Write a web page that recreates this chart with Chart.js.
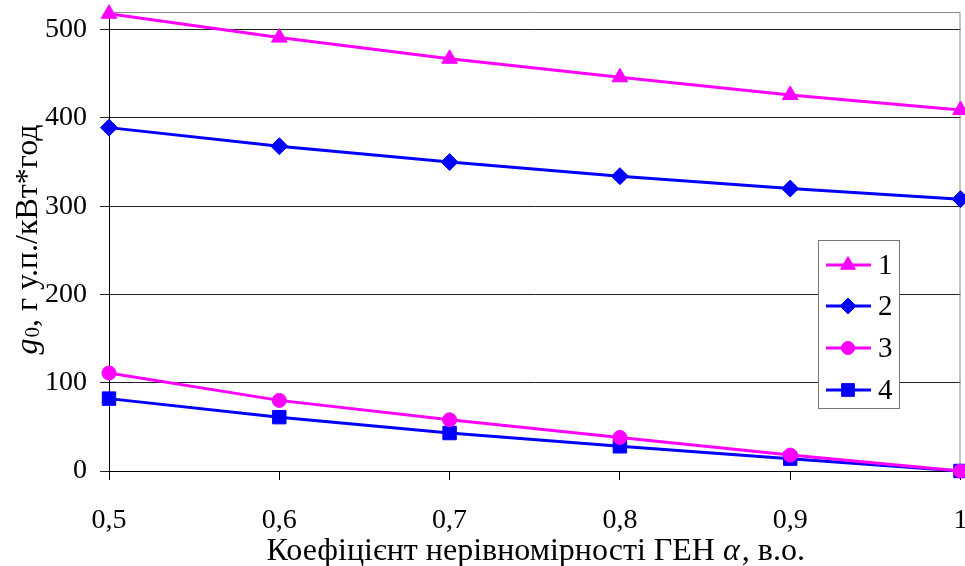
<!DOCTYPE html>
<html>
<head>
<meta charset="utf-8">
<script src="https://cdn.jsdelivr.net/npm/chart.js@4/dist/chart.umd.min.js"></script>
<style>
  html, body { margin: 0; padding: 0; background: #fff; overflow: hidden; }
  #wrap { width: 965px; height: 566px; overflow: hidden; }
</style>
</head>
<body>
<div id="wrap"><canvas id="myChart" width="971" height="566"></canvas></div>
<script>
const alphas = [0.5, 0.6, 0.7, 0.8, 0.9, 1.0];
const series1 = [518, 491, 467, 446, 426, 409];
const series2 = [389, 368, 350, 334, 320, 308];
const series3 = [111, 80, 58, 38, 18, 0];
const series4 = [82, 61, 43, 28, 14, 0];
const seriesNames = ["1", "2", "3", "4"];
const yTicks = [0, 100, 200, 300, 400, 500];

const magenta = "#ff00ff";
const blue = "#0000ff";
const serif = "'Liberation Serif', 'Times New Roman', serif";

function pts(vals) {
  return alphas.map((a, i) => ({ x: a, y: vals[i] }));
}

// frame, axis titles and the boxed legend drawn over the chart
const extras = {
  id: "extras",
  beforeDatasetsDraw(chart) {
    const { ctx, chartArea: a } = chart;
    ctx.save();
    ctx.strokeStyle = "#8a8a8a";
    ctx.lineWidth = 1;
    ctx.beginPath();
    ctx.moveTo(a.left, a.top + 0.5);
    ctx.lineTo(a.right - 0.5, a.top + 0.5);
    ctx.lineTo(a.right - 0.5, a.bottom);
    ctx.stroke();
    ctx.restore();
  },
  afterDraw(chart) {
    const { ctx, chartArea: a } = chart;
    ctx.save();
    ctx.fillStyle = "#000";
    ctx.textBaseline = "alphabetic";

    // x title
    const p1 = "Коефіцієнт нерівномірності ГЕН ";
    const p2 = "α";
    const p3 = ", в.о.";
    const fN = "32px " + serif;
    const fI = "italic 32px " + serif;
    ctx.font = fN;
    const w1 = ctx.measureText(p1).width, w3 = ctx.measureText(p3).width;
    ctx.font = fI;
    const w2 = ctx.measureText(p2).width;
    let x = (a.left + a.right) / 2 - (w1 + w2 + w3) / 2;
    const yb = 560;
    ctx.font = fN; ctx.fillText(p1, x, yb); x += w1;
    ctx.font = fI; ctx.fillText(p2, x, yb); x += w2 + 2;
    ctx.font = fN; ctx.fillText(p3, x, yb);

    // y title, rotated
    ctx.translate(37, 240);
    ctx.rotate(-Math.PI / 2);
    const g = "g", sub = "0", rest = ", г у.п./кВт*год";
    ctx.font = fI; const wg = ctx.measureText(g).width;
    ctx.font = "21px " + serif; const ws = ctx.measureText(sub).width;
    ctx.font = fN; const wr = ctx.measureText(rest).width;
    let yx = -(wg + ws + wr) / 2;
    ctx.font = fI; ctx.fillText(g, yx, 0); yx += wg + 1;
    ctx.font = "21px " + serif; ctx.fillText(sub, yx, 2); yx += ws;
    ctx.font = fN; ctx.fillText(rest, yx, 0);
    ctx.setTransform(1, 0, 0, 1, 0, 0);

    // legend box
    const bx = 818, by = 240, bw = 81, bh = 168;
    ctx.fillStyle = "#fff";
    ctx.fillRect(bx, by, bw, bh);
    ctx.strokeStyle = "#777";
    ctx.lineWidth = 1;
    ctx.strokeRect(bx + 0.5, by + 0.5, bw, bh);
    const rowY = [265, 306, 348, 390];
    chart.data.datasets.forEach((ds, i) => {
      const ly = rowY[i];
      ctx.strokeStyle = ds.borderColor;
      ctx.lineWidth = 3;
      ctx.beginPath();
      ctx.moveTo(826, ly);
      ctx.lineTo(871, ly);
      ctx.stroke();
      ctx.fillStyle = ds.backgroundColor;
      ctx.lineWidth = 1;
      Chart.helpers.drawPoint(ctx, {
        pointStyle: ds.pointStyle,
        radius: ds.pointRadius - 0.5,
        rotation: 0,
        borderWidth: 1
      }, 848, ly);
      ctx.fillStyle = "#000";
      ctx.font = "29px " + serif;
      ctx.textBaseline = "middle";
      ctx.fillText(ds.label, 878, ly + 1);
    });
    ctx.restore();
  }
};

const ctx1 = document.getElementById("myChart");

const lineChart = new Chart(ctx1, {
  type: "line",
  data: {
    datasets: [
      {
        label: seriesNames[0],
        data: pts(series1),
        borderColor: magenta,
        backgroundColor: magenta,
        pointStyle: "triangle",
        pointRadius: 9,
      },
      {
        label: seriesNames[1],
        data: pts(series2),
        borderColor: blue,
        backgroundColor: blue,
        pointStyle: "rectRot",
        pointRadius: 8.5,
      },
      {
        label: seriesNames[2],
        data: pts(series3),
        borderColor: magenta,
        backgroundColor: magenta,
        pointStyle: "circle",
        pointRadius: 7,
      },
      {
        label: seriesNames[3],
        data: pts(series4),
        borderColor: blue,
        backgroundColor: blue,
        pointStyle: "rect",
        pointRadius: 9.5,
      },
    ],
  },
  options: {
    responsive: false,
    animation: false,
    clip: false,
    elements: {
      line: { borderWidth: 3, tension: 0 },
      point: { borderWidth: 1, hoverRadius: 9 },
    },
    layout: { padding: { top: 12, right: 0, left: 0, bottom: 0 } },
    plugins: {
      legend: { display: false },
      tooltip: { enabled: false },
    },
    scales: {
      x: {
        type: "linear",
        min: 0.5,
        max: 1,
        ticks: {
          stepSize: 0.1,
          padding: 0,
          maxRotation: 0,
          minRotation: 0,
          color: "#000",
          font: { family: serif, size: 28, lineHeight: 2.9 },
          callback: (v) => String(Math.round(v * 10) / 10).replace(".", ","),
        },
        grid: {
          drawOnChartArea: false,
          color: "#000",
          tickLength: 9,
        },
        border: { color: "#000", width: 1 },
        afterFit: (s) => { s.height = 95; },
      },
      y: {
        min: 0,
        max: 520,
        afterBuildTicks: (s) => {
          s.ticks = yTicks.map((v) => ({ value: v }));
        },
        ticks: {
          padding: 13,
          color: "#000",
          font: { family: serif, size: 28 },
        },
        grid: {
          color: "#222",
          tickLength: 9,
        },
        border: { color: "#000", width: 1 },
        afterFit: (s) => { s.width = 109; s.paddingTop = 0; s.paddingBottom = 0; },
      },
    },
  },
  plugins: [extras],
});
</script>
</body>
</html>
